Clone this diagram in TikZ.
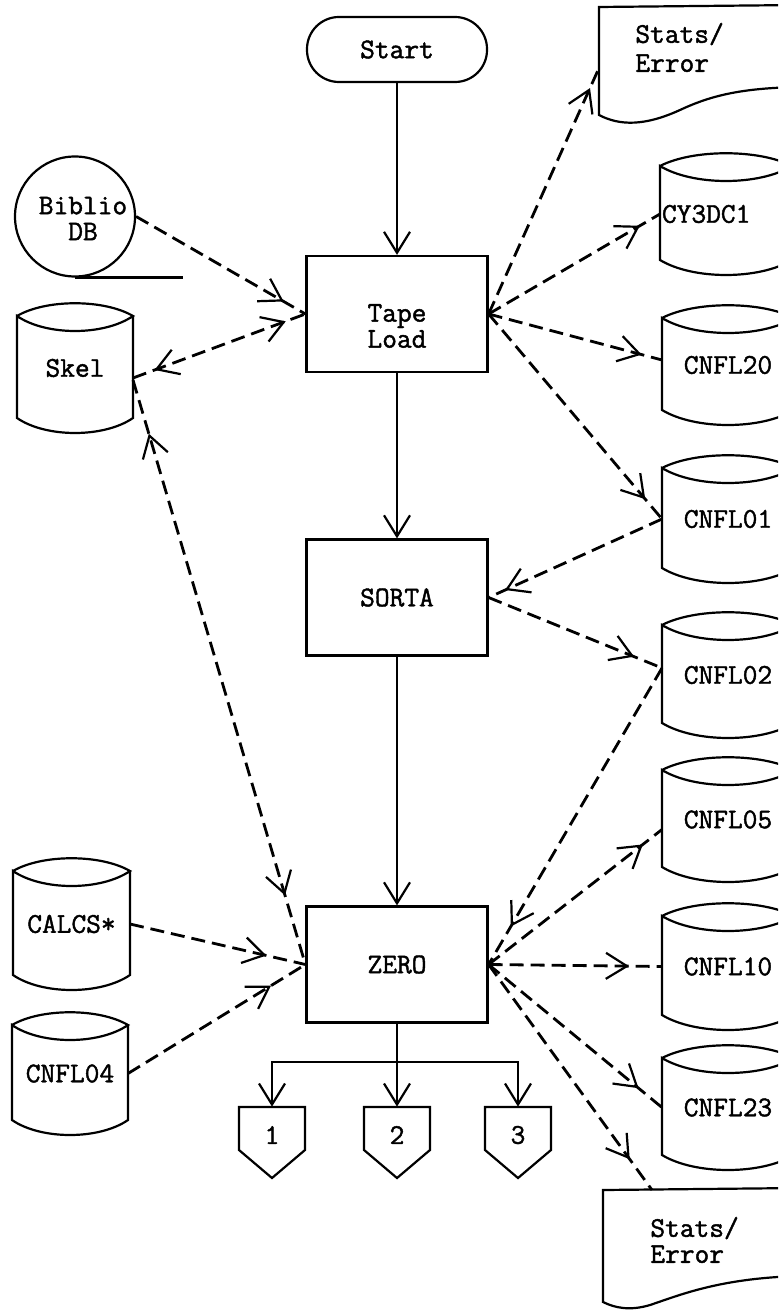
\documentclass[tikz,border=0pt]{standalone}
\usepackage{fontspec}
\newfontfamily\tw{Latin Modern Mono}[FakeBold=1.5]
\usetikzlibrary{arrows.meta,decorations.markings}
\tikzset{
  vb/.tip={Straight Barb[length=10.5pt,width=13pt,line width=1.1pt]},
  lin/.style={line width=1.1pt},
  dl/.style={line width=1.4pt, dash pattern=on 7pt off 3.5pt},
  txt/.style={font=\tw\fontsize{14.3pt}{13pt}\selectfont, align=center, inner sep=0pt},
  box/.style={draw, lin, minimum width=90.5pt, minimum height=58pt, txt},
  hd/.style={postaction={decorate,decoration={markings,mark=at position -#1 with {\pgfsetdash{}{0pt}\arrow{vb}}}}},
  hs/.style={postaction={decorate,decoration={markings,mark=at position #1 with {\pgfsetdash{}{0pt}\arrowreversed{vb}}}}},
}
% #1 node options, #2 name, #3 x0, #4 ypeak, #5 width, #6 height, #7 text
\newcommand\cylnd[7][]{%
  \draw[lin] (#3,#4+13) .. controls (#3+0.25*#5,#4-4) and (#3+0.75*#5,#4-4) .. (#3+#5,#4+13)
     .. controls (#3+0.75*#5,#4+33) and (#3+0.25*#5,#4+33) .. (#3,#4+13)
     -- (#3,#4+#6-15) .. controls (#3+0.25*#5,#4+#6+5) and (#3+0.75*#5,#4+#6+5) .. (#3+#5,#4+#6-15)
     -- (#3+#5,#4+13);
  \node[txt, outer sep=0pt, minimum width={#5*0.5pt}, minimum height={(#6-30)*0.5pt}, #1] (#2) at (#3+#5/2,#4+#6/2) {#7};
}
% #1 name, #2 centre x, #3 text
\newcommand\pentnd[3]{%
  \draw[lin] (#2-33,1107) -- (#2+33,1107) -- (#2+33,1150) -- (#2,1178) -- (#2-33,1150) -- cycle;
  \node[txt, minimum width=33pt, minimum height=28pt] (#1) at (#2,1135) {#3};
}
\begin{document}
\begin{tikzpicture}[x=0.5pt,y=-0.5pt]
\useasboundingbox (0,0) rectangle (778,1310);
\clip (0,0) rectangle (778,1310);

% main column
\node[draw, lin, rounded corners=16pt, minimum width=90pt, minimum height=32.5pt, txt] (start) at (397,49.5) {Start};
\node[box, label={[txt,yshift=-6pt]center:{Tape\\Load}}] (tape) at (397,314) {};
\node[box] (sorta) at (397,597.5) {SORTA};
\node[box] (zero) at (397,964.5) {ZERO};

% left side
\node[circle, draw, lin, minimum size=60pt, inner sep=0pt,
      label={[txt,xshift=4pt,yshift=-1pt]center:{Biblio\\DB}}] (biblio) at (75,216.5) {};
\draw[lin] (biblio.south) -- ++(108,0);
\cylnd{skel}{17}{303}{116}{130}{Skel}
\cylnd{calcs}{13}{858}{117}{132}{CALCS*}
\cylnd{cnfl04}{12}{1012}{116}{123}{CNFL04}

% right side
\cylnd[text width=64pt, align=left]{cy3dc1}{660}{153}{132}{122}{CY3DC1}
\cylnd{cnfl20}{662}{305}{132}{120}{CNFL20}
\cylnd{cnfl01}{662}{455}{132}{128}{CNFL01}
\cylnd{cnfl02}{662}{612}{132}{126}{CNFL02}
\cylnd{cnfl05}{662}{757}{132}{125}{CNFL05}
\cylnd{cnfl10}{662}{903}{132}{127}{CNFL10}
\cylnd{cnfl23}{662}{1045}{132}{125}{CNFL23}

% documents
\draw[lin] (800,5) -- (599,7) -- (599,115) .. controls (620,126) and (645,126) .. (680,110)
   .. controls (710,96) and (740,88) .. (800,87);
\node[txt, align=left, anchor=west] (st1) at (635,47.5) {Stats/\\[1.5pt]Error};
\coordinate (st1in) at (599,68);
\draw[lin] (800,1188) -- (603,1190) -- (603,1302) .. controls (615,1308) and (630,1311) .. (650,1305)
   .. controls (680,1295) and (720,1278) .. (800,1276);
\node[txt, align=left, anchor=west] (st2) at (650,1240) {Stats/\\Error};
\coordinate (sbin) at (652,1190);

% connectors
\pentnd{p1}{272}{1}
\pentnd{p2}{397}{2}
\pentnd{p3}{518}{3}
\coordinate (br) at (397,1062);

\draw[lin,-{vb}] (start) -- (tape);
\draw[lin,-{vb}] (tape) -- (sorta);
\draw[lin,-{vb}] (sorta) -- (zero);
\draw[lin,-{vb}] (zero.south) -- (p2.north);
\draw[lin,-{vb}] (br) -| (p1.north);
\draw[lin,-{vb}] (br) -| (p3.north);

\draw[dl, hd=12.5pt] (biblio.east) -- (tape.west);
\draw[dl, hs=11.5pt, hd=10.5pt] ([yshift=-5pt]skel.east) -- (tape.west);
\draw[dl, hs=28pt, hd=36pt] ([yshift=-6pt]skel.east) -- (zero.west);
\draw[dl, hd=11pt] (tape.east) -- (st1in);
\draw[dl, hd=11.5pt] (tape.east) -- (cy3dc1.west);
\draw[dl, hd=10.5pt] (tape.east) -- ([yshift=2.5pt]cnfl20.west);
\draw[dl, hd=13pt] (tape.east) -- (cnfl01.west);
\draw[dl, hd=9pt] (cnfl01.west) -- (sorta.east);
\draw[dl, hd=15pt] (sorta.east) -- ([yshift=3.5pt]cnfl02.west);
\draw[dl, hd=22pt] ([yshift=3.5pt]cnfl02.west) -- (zero.east);
\draw[dl, hd=12pt] (zero.east) -- ([yshift=-5pt]cnfl05.west);
\draw[dl, hd=16.5pt] (zero.east) -- (cnfl10.west);
\draw[dl, hd=15pt] (zero.east) -- (cnfl23.west);
\draw[dl, hd=19pt] (zero.east) -- (sbin);
\draw[dl, hd=20pt] (calcs.east) -- (zero.west);
\draw[dl, hd=20pt] (cnfl04.east) -- (zero.west);
\end{tikzpicture}
\end{document}
